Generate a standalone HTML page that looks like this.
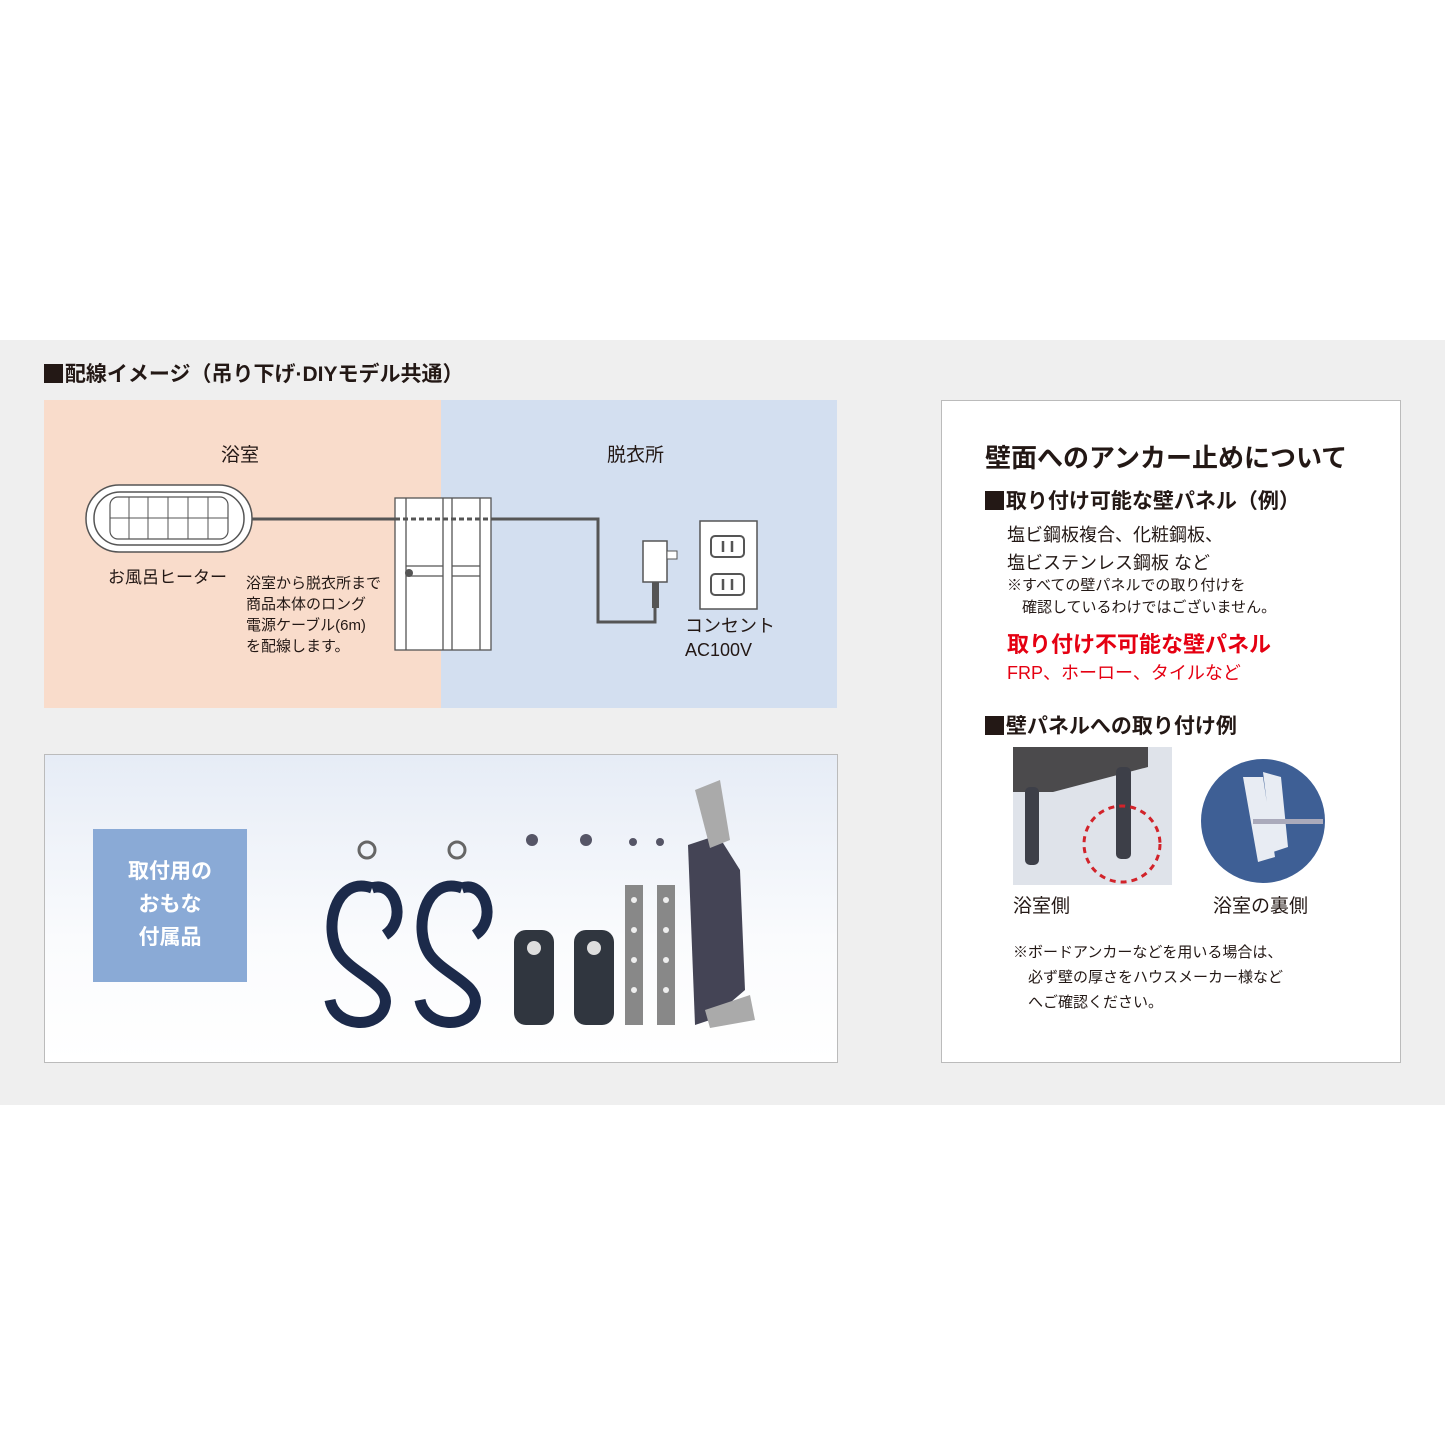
<!DOCTYPE html>
<html><head><meta charset="utf-8"><style>
body{margin:0;width:1445px;height:1445px;background:#fff;position:relative;overflow:hidden;font-family:"Liberation Sans","Noto Sans CJK JP",sans-serif;color:#231815}
.a{position:absolute;white-space:nowrap}
.b{font-weight:bold}
.sq{display:inline-block;width:0.9em;height:0.9em;background:#231815;vertical-align:-0.08em;margin-right:2px}
</style></head><body>
<div class="a" style="left:0;top:340px;width:1445px;height:765px;background:#efefef"></div>
<div class="a b" style="left:44px;top:358px;font-size:21px"><span class="sq"></span>配線イメージ（吊り下げ·DIYモデル共通）</div>
<div class="a" style="left:44px;top:400px;width:397px;height:308px;background:#f9dccb"></div>
<div class="a" style="left:441px;top:400px;width:396px;height:308px;background:#d3dff0"></div>
<div class="a" style="left:221px;top:440px;font-size:19px">浴室</div>
<div class="a" style="left:607px;top:440px;font-size:19px">脱衣所</div>
<svg class="a" style="left:44px;top:400px" width="793" height="308">
<g fill="none" stroke="#555">
<rect x="42" y="85" width="166" height="67" rx="33" fill="#fff" stroke-width="1.5"/>
<rect x="50" y="92" width="150" height="53" rx="26" stroke-width="1.5"/>
<rect x="66" y="97" width="118" height="42" rx="8" stroke-width="1.2"/>
<path d="M85 97V139M104 97V139M124 97V139M144 97V139M164 97V139M66 118H184" stroke-width="1"/>
<path d="M208 119H351" stroke-width="3"/>
<path d="M447 119H554V222H611V190" stroke-width="3"/>
</g>
<g stroke="#555" fill="#fff" stroke-width="1.3">
<rect x="351" y="98" width="96" height="152"/>
<path d="M399 98V250M362 98V250M408 98V250M436 98V250M362 166H399M408 166H436M362 176H399M408 176H436" fill="none"/>
</g>
<path d="M351 119H447" stroke="#555" stroke-width="3" stroke-dasharray="5 3"/>
<circle cx="365" cy="173" r="4" fill="#555"/>
<rect x="599" y="141" width="24" height="41" fill="#fff" stroke="#555" stroke-width="1.5"/>
<rect x="623" y="151" width="10" height="8" fill="#fff" stroke="#555"/>
<rect x="608" y="182" width="7" height="26" fill="#555"/>
<rect x="656" y="121" width="57" height="88" fill="#fff" stroke="#555" stroke-width="1.5"/>
<rect x="667" y="136" width="33" height="21" rx="4" fill="#fff" stroke="#555" stroke-width="2"/>
<rect x="667" y="174" width="33" height="21" rx="4" fill="#fff" stroke="#555" stroke-width="2"/>
<path d="M679 141V152M688 141V152M679 179V190M688 179V190" stroke="#555" stroke-width="2.5"/>
</svg>
<div class="a" style="left:108px;top:563px;font-size:17px">お風呂ヒーター</div>
<div class="a" style="left:246px;top:573px;font-size:15px;line-height:21px">浴室から脱衣所まで<br>商品本体のロング<br>電源ケーブル(6m)<br>を配線します。</div>
<div class="a" style="left:685px;top:614px;font-size:18px;line-height:24px">コンセント<br>AC100V</div>

<div class="a" style="left:44px;top:754px;width:792px;height:307px;border:1px solid #bbb;background:linear-gradient(#e6ecf6,#fafbfd 60%,#fff)"></div>
<div class="a" style="left:93px;top:829px;width:154px;height:153px;background:#8aaad6"></div>
<div class="a b" style="left:93px;top:855px;width:154px;text-align:center;white-space:normal;color:#fff;font-size:21px;line-height:33px">取付用の<br>おもな<br>付属品</div>
<svg class="a" style="left:300px;top:770px" width="480" height="280">
<g fill="none" stroke="#1c2a4a" stroke-width="11">
<path d="M72 118C35 105 22 160 40 185C55 205 90 215 85 235C80 260 35 258 30 230M72 118C95 110 108 150 85 165"/>
<path d="M162 118C125 105 112 160 130 185C145 205 180 215 175 235C170 260 125 258 120 230M162 118C185 110 198 150 175 165"/>
</g>
<g fill="none" stroke="#666" stroke-width="3"><circle cx="67" cy="80" r="8"/><circle cx="157" cy="80" r="8"/></g>
<g fill="#30363f"><rect x="214" y="160" width="40" height="95" rx="12"/><rect x="274" y="160" width="40" height="95" rx="12"/></g>
<g fill="#ddd"><circle cx="234" cy="178" r="7"/><circle cx="294" cy="178" r="7"/></g>
<g fill="#888"><rect x="325" y="115" width="18" height="140"/><rect x="357" y="115" width="18" height="140"/></g>
<g fill="#eee"><circle cx="334" cy="130" r="3"/><circle cx="334" cy="160" r="3"/><circle cx="334" cy="190" r="3"/><circle cx="334" cy="220" r="3"/><circle cx="366" cy="130" r="3"/><circle cx="366" cy="160" r="3"/><circle cx="366" cy="190" r="3"/><circle cx="366" cy="220" r="3"/></g>
<g fill="#445"><path d="M388 75L418 65L440 100L445 220L410 250L395 255Z"/></g>
<g fill="#aaa"><path d="M395 20L420 10L430 70L410 78Z"/><path d="M405 240L450 225L455 250L410 258Z"/></g>
<g fill="#556" ><circle cx="232" cy="70" r="6"/><circle cx="286" cy="70" r="6"/><circle cx="333" cy="72" r="4"/><circle cx="360" cy="72" r="4"/></g>
</svg>

<div class="a" style="left:941px;top:400px;width:458px;height:661px;border:1px solid #bbb;background:#fff"></div>
<div class="a b" style="left:985px;top:438px;font-size:26px">壁面へのアンカー止めについて</div>
<div class="a b" style="left:985px;top:485px;font-size:21px"><span class="sq"></span>取り付け可能な壁パネル（例）</div>
<div class="a" style="left:1007px;top:521px;font-size:18px;line-height:28px">塩ビ鋼板複合、化粧鋼板、<br>塩ビステンレス鋼板 など</div>
<div class="a" style="left:1007px;top:575px;font-size:15px;line-height:22px">※すべての壁パネルでの取り付けを<br>　確認しているわけではございません。</div>
<div class="a b" style="left:1007px;top:627px;font-size:22px;color:#e50012">取り付け不可能な壁パネル</div>
<div class="a" style="left:1007px;top:659px;font-size:18px;color:#e50012">FRP、ホーロー、タイルなど</div>
<div class="a b" style="left:985px;top:710px;font-size:21px"><span class="sq"></span>壁パネルへの取り付け例</div>
<svg class="a" style="left:1013px;top:747px" width="320" height="140">
<rect width="159" height="138" fill="#dfe3ea"/>
<path d="M0 0H135V20L40 45H0Z" fill="#4b4a4c"/>
<rect x="12" y="40" width="14" height="78" rx="5" fill="#3d3f48"/>
<rect x="103" y="20" width="15" height="92" rx="5" fill="#3d3f48"/>
<circle cx="109" cy="97" r="38" fill="none" stroke="#d2232a" stroke-width="3" stroke-dasharray="6 5"/>
<circle cx="250" cy="74" r="62" fill="#3e5f95"/>
<path d="M230 30L250 30L262 110L245 115Z M250 25L268 30L275 100L260 105Z" fill="#e8ecf3"/>
<rect x="240" y="72" width="70" height="5" fill="#aab"/>
</svg>
<div class="a" style="left:1013px;top:891px;font-size:19px">浴室側</div>
<div class="a" style="left:1213px;top:891px;font-size:19px">浴室の裏側</div>
<div class="a" style="left:1013px;top:940px;font-size:15px;line-height:25px">※ボードアンカーなどを用いる場合は、<br>　必ず壁の厚さをハウスメーカー様など<br>　へご確認ください。</div>
</body></html>
